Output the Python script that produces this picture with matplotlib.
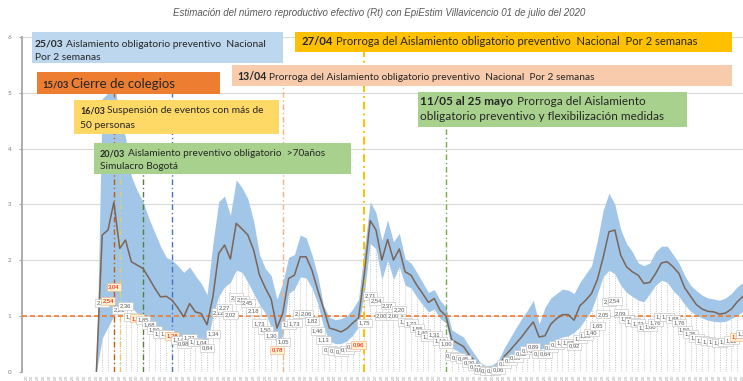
import matplotlib
matplotlib.use("Agg")
import matplotlib.pyplot as plt
from matplotlib.patches import Rectangle
import numpy as np
import pandas as pd

W, H = 743, 381

# Daily categories on the x axis
categories = pd.date_range("2020-02-29", "2020-07-01", freq="D")
first_estimate = "2020-03-12"

# EpiEstim Rt estimates (mean and credible interval) from 12/03/2020
rt_mean = [
    0.00, 2.45, 2.54, 3.04, 2.21, 2.36, 1.97, 1.91, 1.85, 1.68,
    1.50, 1.34, 1.35, 1.28, 1.14, 0.98, 1.22, 1.07, 1.04, 0.84,
    1.34, 2.12, 2.27, 2.02, 2.66, 2.56, 2.45, 2.18, 1.73, 1.50,
    1.30, 0.78, 1.05, 1.67, 1.73, 2.06, 2.06, 1.82, 1.46, 1.13,
    0.78, 0.75, 0.71, 0.77, 0.87, 0.96, 1.75, 2.71, 2.54, 2.00,
    2.37, 2.00, 2.20, 1.79, 1.73, 1.55, 1.40, 1.24, 1.31, 1.10,
    1.00, 0.57, 0.51, 0.45, 0.30, 0.18, 0.06, 0.03, 0.03, 0.06,
    0.27, 0.38, 0.50, 0.62, 0.76, 0.89, 0.62, 0.64, 0.85, 0.95,
    1.02, 1.02, 0.92, 1.18, 1.28, 1.40, 1.65, 2.05, 2.51, 2.54,
    2.09, 1.88, 1.79, 1.73, 1.58, 1.60, 1.76, 1.95, 1.97, 1.88,
    1.76, 1.50, 1.35, 1.20, 1.12, 1.08, 1.07, 1.03, 1.05, 1.12,
    1.25, 1.35,
]
rt_upper = [
    0.00, 4.90, 5.00, 5.20, 4.60, 4.20, 3.50, 3.25, 3.05, 2.75,
    2.50, 2.25, 2.05, 2.00, 1.90, 1.78, 1.88, 1.72, 1.58, 1.38,
    2.30, 3.05, 3.15, 2.80, 3.44, 3.30, 3.10, 2.70, 2.10, 1.85,
    1.72, 1.30, 1.60, 2.05, 2.10, 2.45, 2.40, 2.10, 1.72, 1.18,
    0.97, 0.93, 0.95, 1.00, 1.12, 1.30, 2.20, 3.05, 2.85, 2.35,
    2.72, 2.33, 2.48, 2.02, 1.95, 1.78, 1.60, 1.42, 1.47, 1.28,
    1.15, 0.75, 0.68, 0.62, 0.45, 0.30, 0.15, 0.10, 0.12, 0.20,
    0.42, 0.60, 0.78, 0.95, 1.10, 1.28, 0.85, 1.15, 1.32, 1.40,
    1.48, 1.46, 1.40, 1.60, 1.75, 1.90, 2.35, 2.90, 3.20, 3.00,
    2.55, 2.30, 2.15, 1.95, 1.90, 1.95, 2.15, 2.25, 2.25, 2.10,
    1.95, 1.72, 1.55, 1.45, 1.37, 1.32, 1.30, 1.28, 1.32, 1.40,
    1.52, 1.60,
]
rt_lower = [
    0.00, 0.60, 0.80, 1.00, 1.10, 1.25, 1.15, 1.05, 0.98, 0.85,
    0.75, 0.68, 0.62, 0.57, 0.52, 0.50, 0.55, 0.53, 0.50, 0.48,
    1.00, 1.35, 1.52, 1.60, 1.82, 1.78, 1.60, 1.40, 1.20, 1.05,
    0.80, 0.45, 0.65, 1.40, 1.48, 1.70, 1.68, 1.50, 1.22, 0.80,
    0.55, 0.50, 0.50, 0.55, 0.65, 0.80, 1.40, 2.30, 2.20, 1.65,
    2.00, 1.65, 1.88, 1.55, 1.50, 1.34, 1.20, 1.07, 1.12, 0.95,
    0.87, 0.42, 0.37, 0.30, 0.18, 0.08, 0.02, 0.00, 0.00, 0.02,
    0.12, 0.22, 0.30, 0.38, 0.45, 0.52, 0.40, 0.42, 0.52, 0.58,
    0.62, 0.64, 0.70, 0.80, 0.95, 1.10, 1.40, 1.70, 1.82, 1.75,
    1.55, 1.42, 1.35, 1.28, 1.25, 1.40, 1.55, 1.64, 1.60, 1.45,
    1.35, 1.20, 1.08, 1.01, 0.96, 0.92, 0.90, 0.89, 0.90, 0.95,
    1.01, 1.08,
]

# Days whose value label is highlighted
highlight_dates = ["2020-03-14", "2020-03-15", "2020-03-19", "2020-03-25",
                   "2020-04-12", "2020-04-26", "2020-06-30"]

# Public-health measures: date, line colour, line top (Rt units)
event_dates = ["2020-03-15", "2020-03-16", "2020-03-20", "2020-03-25",
               "2020-04-13", "2020-04-27", "2020-05-11"]
event_colors = ["#C55A11", "#D6D36A", "#548235", "#4472C4",
                "#F4B183", "#FFC000", "#70AD47"]
event_tops = [5.0, 4.3, 3.6, 5.0, 5.15, 5.8, 4.4]

title = ("Estimación del número reproductivo efectivo (Rt) con EpiEstim "
         "Villavicencio 01 de julio del 2020")

# ---------------------------------------------------------------------------
fig = plt.figure(figsize=(W / 100, H / 100), dpi=100)
fig.patch.set_facecolor("white")
y0_px, y6_px = 371.5, 37.3
ax = fig.add_axes([22 / W, (H - y0_px) / H, (W - 22) / W, (y0_px - y6_px) / H])

def cat_index(d):
    return int((pd.Timestamp(d) - categories[0]).days)

start = cat_index(first_estimate)
xs = np.arange(start, start + len(rt_mean))

ax.set_xlim(-0.77, 122.48)
ax.set_ylim(0, 6)

# grid and axes
ax.set_yticks(range(7))
ax.yaxis.grid(True, color="#D9D9D9", lw=0.8)
ax.set_axisbelow(True)
for s in ("top", "right", "bottom"):
    ax.spines[s].set_visible(False)
ax.spines["left"].set_color("#A6A6A6")
ax.spines["left"].set_linewidth(1.3)
ax.tick_params(axis="y", length=2.5, color="#A6A6A6", labelsize=4.5,
               labelcolor="#7F7F7F", pad=5)
ax.set_yticklabels([str(v) for v in range(7)], family="Lato")
ax.set_xticks(np.arange(len(categories)))
ax.set_xticklabels([d.strftime("%d/%m/%Y") for d in categories], rotation=90,
                   fontsize=3, color="#9A9A9A", family="Liberation Sans")
ax.tick_params(axis="x", length=0, pad=2.5)

# credible interval band
ax.fill_between(xs, rt_lower, rt_upper, color="#A2C6E8", lw=0, zorder=1)
# dotted drop lines under the band
ax.vlines(xs, 0, rt_lower, colors="#BDBDBD", linestyles=(0, (1.2, 1.6)),
          lw=0.6, zorder=1.5)

# event markers
for d, c, top in zip(event_dates, event_colors, event_tops):
    lw = 1.4 if c == "#FFC000" else 1.0
    ax.vlines(cat_index(d), 0, top, colors=c, linestyles=(0, (4, 2, 1, 2)),
              lw=lw, zorder=2.5)

# Rt = 1 threshold
ax.axhline(1, color="#ED7D31", ls=(0, (3, 1.8)), lw=1.2, zorder=3)

# mean Rt
ax.plot(xs, rt_mean, color="#7B6558", lw=1.1, zorder=4)

# value labels
hl = {cat_index(d) for d in highlight_dates}
for x, v in zip(xs[1:], rt_mean[1:]):
    txt = f"{v:.2f}".replace(".", ",")
    if x in hl:
        tc, fc, ec = "#FF0000", "#FFF2CC", "#F4B183"
    else:
        tc, fc, ec = "#595959", "white", "#BFBFBF"
    ax.text(x, v / 2, txt, ha="center", va="center", fontsize=4.2, color=tc,
            family="Liberation Sans", zorder=5,
            bbox=dict(boxstyle="square,pad=0.25", fc=fc, ec=ec, lw=0.4))

# ---------------------------------------------------------------------------
renderer = fig.canvas.get_renderer()

def text_width(s, size, weight, family, style="normal"):
    t = fig.text(0, 0, s, fontsize=size, fontweight=weight, family=family,
                 style=style)
    w = t.get_window_extent(renderer).width
    t.remove()
    return w

def draw_line(runs, x_px, yc_px, scale, color, family="Lato"):
    x = x_px
    big = max(r[2] for r in runs) * scale * 100 / 72
    base = yc_px + 0.36 * big
    for s, weight, size in runs:
        sz = size * scale
        fig.text(x / W, 1 - base / H, s, fontsize=sz, fontweight=weight,
                 family=family, color=color, va="baseline", ha="left",
                 zorder=7)
        x += text_width(s, sz, weight, family)
        x += 0.27 * sz * 100 / 72

def line_natural_width(runs, family="Lato"):
    w = 0
    for i, (s, weight, size) in enumerate(runs):
        w += text_width(s, size, weight, family)
        if i < len(runs) - 1:
            w += 0.27 * size * 100 / 72
    return w

def note(rect, face, lines, target_w, color="#262626"):
    x0, y0, x1, y1 = rect
    fig.patches.append(Rectangle((x0 / W, 1 - y1 / H), (x1 - x0) / W,
                                 (y1 - y0) / H, transform=fig.transFigure,
                                 facecolor=face, edgecolor="none", zorder=6))
    scale = target_w / line_natural_width(lines[0][2])
    for (lx, ly, runs) in lines:
        draw_line(runs, lx, ly, scale, color)

B, N = "bold", "normal"
note((32, 31.5, 283, 63.3), "#BDD7EE",
     [(35, 43, [("25/03", B, 8), ("Aislamiento obligatorio preventivo  Nacional", N, 8)]),
      (35, 56.5, [("Por 2 semanas", N, 8)])], 232)
note((36.7, 71.7, 220, 94.3), "#ED7D31",
     [(42, 83, [("15/03", B, 7.5), ("Cierre de colegios", N, 10.5)])], 134)
note((74, 100, 279.3, 134), "#FFD966",
     [(80, 109.3, [("16/03", B, 6.2), ("Suspensión de eventos con más de", N, 7.2)]),
      (80, 124.5, [("50 personas", N, 7.2)])], 185)
note((94.3, 142.7, 351, 174), "#A9D18E",
     [(100, 152.5, [("20/03", B, 6.4), ("Aislamiento preventivo obligatorio  >70años", N, 7.2)]),
      (100, 165.7, [("Simulacro Bogotá", N, 7.2)])], 224)
note((295, 31.7, 731.5, 51.7), "#FFC000",
     [(301.5, 40.7, [("27/04", B, 9), ("Prorroga del Aislamiento obligatorio preventivo  Nacional  Por 2 semanas", N, 9)])], 398)
note((231.7, 65, 731.5, 86), "#F8CBAD",
     [(237, 76, [("13/04", B, 7.5), ("Prorroga del Aislamiento obligatorio preventivo  Nacional  Por 2 semanas", N, 7.2)])], 358)
note((418.3, 91.7, 686.7, 126.7), "#A9D18E",
     [(420.5, 100.5, [("11/05 al 25 mayo", B, 8.5), ("Prorroga del Aislamiento", N, 8.5)]),
      (420.5, 116, [("obligatorio preventivo y flexibilización medidas", N, 8.5)])], 223)

# title, fitted to its span
tw = text_width(title, 7, N, "Liberation Sans", "italic")
fig.text(379.5 / W, 1 - 12.5 / H, title, fontsize=7 * 415 / tw, style="italic",
         family="Liberation Sans", color="#595959", ha="center", va="center")

fig.savefig("out.png", dpi=100, facecolor="white")
